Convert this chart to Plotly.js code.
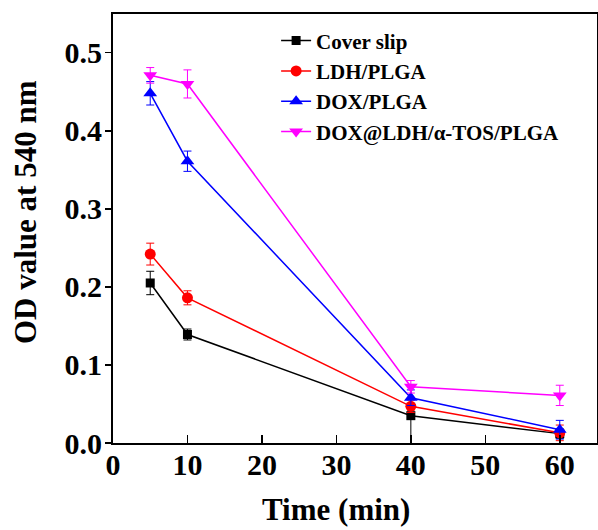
<!DOCTYPE html>
<html>
<head>
<meta charset="utf-8">
<script src="https://cdn.plot.ly/plotly-3.0.1.min.js"></script>
<style>html,body{margin:0;padding:0;background:#fff;}#chart{width:598px;height:530px;}</style>
</head>
<body>
<div id="chart"></div>
<script>
const time = [5, 10, 40, 60];
const seriesNames = ["Cover slip", "LDH/PLGA", "DOX/PLGA", "DOX@LDH/α-TOS/PLGA"];
const coverSlip = [0.205, 0.139, 0.035, 0.012];
const coverSlipErr = [0.015, 0.007, 0.04, 0.006];
const ldhPlga = [0.242, 0.186, 0.047, 0.013];
const ldhPlgaErr = [0.014, 0.009, 0.008, 0.01];
const doxPlga = [0.448, 0.361, 0.058, 0.017];
const doxPlgaErr = [0.015, 0.013, 0.01, 0.012];
const doxLdh = [0.471, 0.460, 0.072, 0.061];
const doxLdhErr = [0.01, 0.018, 0.008, 0.013];
const xTicks = [0, 10, 20, 30, 40, 50, 60];
const yTicks = [0.0, 0.1, 0.2, 0.3, 0.4, 0.5];

const colors = ["#000000", "#ff0000", "#0000ff", "#ff00ff"];
const symbols = ["square", "circle", "triangle-up", "triangle-down"];
const sizes = [9, 11, 12, 12];
const values = [coverSlip, ldhPlga, doxPlga, doxLdh];
const errs = [coverSlipErr, ldhPlgaErr, doxPlgaErr, doxLdhErr];

const traces = values.map((v, i) => ({
  type: "scatter",
  mode: "lines+markers",
  x: time,
  y: v,
  name: seriesNames[i],
  line: {color: colors[i], width: 1.5},
  marker: {color: colors[i], symbol: symbols[i], size: sizes[i]},
  error_y: {type: "data", array: errs[i], visible: true, color: colors[i], thickness: 1, width: 4}
}));

const font = "Liberation Serif, Times New Roman, serif";
const layout = {
  width: 598, height: 530,
  margin: {l: 113, r: 1, t: 14, b: 87},
  paper_bgcolor: "#fff", plot_bgcolor: "#fff",
  showlegend: true,
  legend: {
    x: 0.337, y: 0.985, xanchor: "left", yanchor: "top",
    bgcolor: "rgba(0,0,0,0)",
    font: {family: font, size: 21, color: "#000", weight: "bold"},
    tracegroupgap: 0
  },
  xaxis: {
    range: [0, 65],
    tickvals: xTicks, ticktext: xTicks.map(String),
    ticks: "inside", ticklen: 8, tickwidth: 1.5, tickcolor: "#000",
    showline: true, linecolor: "#000", linewidth: 2, mirror: true,
    showgrid: false, zeroline: false, ticklabelstandoff: -6,
    tickfont: {family: font, size: 30, color: "#000", weight: "bold"}
  },
  yaxis: {
    range: [0, 0.5496],
    tickvals: yTicks, ticktext: yTicks.map(v => v.toFixed(1)),
    ticks: "outside", ticklen: 6, tickwidth: 1.5, tickcolor: "#000",
    showline: true, linecolor: "#000", linewidth: 2, mirror: true,
    showgrid: false, zeroline: false, ticklabelstandoff: -3,
    tickfont: {family: font, size: 30, color: "#000", weight: "bold"}
  },
  annotations: [
    {text: "Time (min)", xref: "paper", yref: "paper", x: (336 - 113) / 484, y: -(510 - 443) / 429,
     xanchor: "center", yanchor: "middle", showarrow: false,
     font: {family: font, size: 31, color: "#000", weight: "bold"}},
    {text: "OD value at 540 nm", xref: "paper", yref: "paper", x: (25 - 113) / 484, y: (443 - 212) / 429,
     xanchor: "center", yanchor: "middle", showarrow: false, textangle: -90,
     font: {family: font, size: 31, color: "#000", weight: "bold"}}
  ]
};

Plotly.newPlot("chart", traces, layout, {displayModeBar: false, staticPlot: true});
</script>
</body>
</html>
